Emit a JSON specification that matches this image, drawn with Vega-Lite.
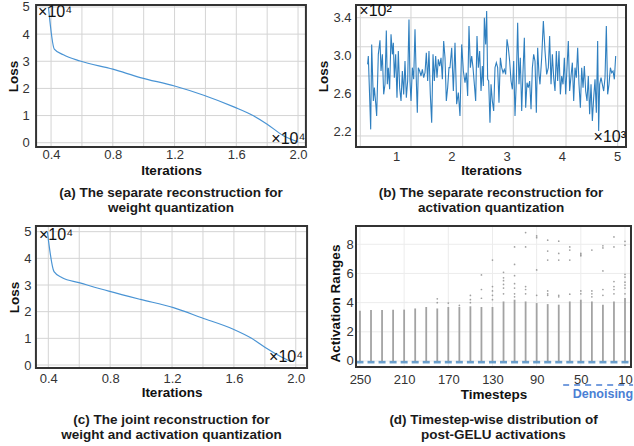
{
  "$schema": "https://vega.github.io/schema/vega-lite/v6.json",
  "background": "white",
  "padding": {"left": 6, "top": 0, "right": 4, "bottom": 0},
  "columns": 2,
  "bounds": "flush",
  "align": "none",
  "spacing": {"row": 77, "column": 47},
  "config": {
    "font": "Liberation Sans",
    "view": {"stroke": null},
    "axis": {
      "labelFont": "Liberation Sans", "labelFontSize": 13, "labelColor": "#333333",
      "titleFont": "Liberation Sans", "titleFontSize": 13.5, "titleFontWeight": "bold", "titleColor": "#111111",
      "ticks": false, "domain": false, "grid": false, "labelOverlap": false, "labelSeparation": -12
    },
    "title": {"font": "Liberation Sans", "fontSize": 13.5, "fontWeight": "bold", "lineHeight": 15, "orient": "bottom", "frame": "group", "anchor": "middle", "color": "#1a1a1a"}
  },
  "concat": [
    {
      "width": 272, "height": 144,
      "title": {"text": ["(a) The separate reconstruction for", "weight quantization"], "offset": 9},
      "resolve": {"axis": {"x": "independent", "y": "independent"}},
      "layer": [
        {
          "data": {"values": [
            {"g": 0.4, "lo": -0.195, "hi": 5.11}, {"g": 0.6, "lo": -0.195, "hi": 5.11}, {"g": 0.8, "lo": -0.195, "hi": 5.11},
            {"g": 1.0, "lo": -0.195, "hi": 5.11}, {"g": 1.2, "lo": -0.195, "hi": 5.11}, {"g": 1.4, "lo": -0.195, "hi": 5.11},
            {"g": 1.6, "lo": -0.195, "hi": 5.11}, {"g": 1.8, "lo": -0.195, "hi": 5.11}, {"g": 2.0, "lo": -0.195, "hi": 5.11}
          ]},
          "mark": {"type": "rule", "color": "#d4d4d4", "strokeWidth": 1},
          "encoding": {
            "x": {"field": "g", "type": "quantitative", "scale": {"domain": [0.296, 2.058], "nice": false, "zero": false},
              "axis": {"title": "Iterations", "values": [0.4, 0.6, 0.8, 1.0, 1.2, 1.4, 1.6, 1.8, 2.0], "labelOverlap": false,
                "labelExpr": "round(datum.value*10) % 4 == 0 ? format(datum.value, '.1f') : ''", "labelPadding": 0, "titleY": 15.2}},
            "y": {"field": "lo", "type": "quantitative", "scale": {"domain": [-0.195, 5.11], "nice": false, "zero": false},
              "axis": {"title": "Loss", "values": [0, 1, 2, 3, 4, 5], "format": "d", "labelOverlap": false, "labelPadding": 5.7, "titleX": -17.7, "titleBaseline": "alphabetic"}},
            "y2": {"field": "hi"}
          }
        },
        {
          "data": {"values": [
            {"g": 0, "lo": 0.296, "hi": 2.058}, {"g": 1, "lo": 0.296, "hi": 2.058}, {"g": 2, "lo": 0.296, "hi": 2.058},
            {"g": 3, "lo": 0.296, "hi": 2.058}, {"g": 4, "lo": 0.296, "hi": 2.058}, {"g": 5, "lo": 0.296, "hi": 2.058}
          ]},
          "mark": {"type": "rule", "color": "#d4d4d4", "strokeWidth": 1},
          "encoding": {"y": {"field": "g", "type": "quantitative", "axis": null}, "x": {"field": "lo", "type": "quantitative", "axis": null}, "x2": {"field": "hi"}}
        },
        {
          "data": {"values": [
            {"iter": 0.383, "loss": 5.0}, {"iter": 0.421, "loss": 3.45}, {"iter": 0.48, "loss": 3.24},
            {"iter": 0.588, "loss": 3.01}, {"iter": 0.8, "loss": 2.71}, {"iter": 0.978, "loss": 2.4},
            {"iter": 1.2, "loss": 2.09}, {"iter": 1.389, "loss": 1.75}, {"iter": 1.584, "loss": 1.32},
            {"iter": 1.714, "loss": 0.985}, {"iter": 1.8, "loss": 0.68}, {"iter": 1.908, "loss": 0.25},
            {"iter": 2.0, "loss": 0.03}
          ]},
          "mark": {"type": "line", "color": "#4a94d4", "strokeWidth": 1.2, "interpolate": "monotone"},
          "encoding": {"x": {"field": "iter", "type": "quantitative", "axis": null}, "y": {"field": "loss", "type": "quantitative", "axis": null}}
        },
        {
          "data": {"values": [{"x1": 0.303, "x2": 2.051, "y1": -0.158, "y2": 5.073}]},
          "mark": {"type": "rect", "fill": "transparent", "stroke": "#333333", "strokeWidth": 2},
          "encoding": {"x": {"field": "x1", "type": "quantitative", "axis": null}, "x2": {"field": "x2"}, "y": {"field": "y1", "type": "quantitative", "axis": null}, "y2": {"field": "y2"}}
        },
        {
          "data": {"values": [{"iter": 0.316, "loss": 4.63, "label": "×10⁴"}]},
          "mark": {"type": "text", "align": "left", "baseline": "alphabetic", "fontSize": 16, "color": "#111111"},
          "encoding": {"x": {"field": "iter", "type": "quantitative", "axis": null}, "y": {"field": "loss", "type": "quantitative", "axis": null}, "text": {"field": "label"}}
        },
        {
          "data": {"values": [{"iter": 2.047, "loss": -0.037, "label": "×10⁴"}]},
          "mark": {"type": "text", "align": "right", "baseline": "alphabetic", "fontSize": 16, "color": "#111111"},
          "encoding": {"x": {"field": "iter", "type": "quantitative", "axis": null}, "y": {"field": "loss", "type": "quantitative", "axis": null}, "text": {"field": "label"}}
        }
      ]
    },
    {
      "width": 272, "height": 144,
      "title": {"text": ["(b) The separate reconstruction for", "activation quantization"], "offset": 9},
      "resolve": {"axis": {"x": "independent", "y": "independent"}},
      "layer": [
        {
          "data": {"values": [
            {"g": 0.354, "lo": 2.023, "hi": 3.545}, {"g": 1.271, "lo": 2.023, "hi": 3.545}, {"g": 2.207, "lo": 2.023, "hi": 3.545},
            {"g": 3.123, "lo": 2.023, "hi": 3.545}, {"g": 4.077, "lo": 2.023, "hi": 3.545}, {"g": 5.013, "lo": 2.023, "hi": 3.545}
          ]},
          "mark": {"type": "rule", "color": "#d4d4d4", "strokeWidth": 1},
          "encoding": {
            "x": {"field": "g", "type": "quantitative", "scale": {"domain": [0.258, 5.181], "nice": false, "zero": false},
              "axis": {"title": "Iterations", "values": [1, 2, 3, 4, 5], "format": "d", "labelOverlap": false, "labelPadding": 2, "titleY": 15.5}},
            "y": {"field": "lo", "type": "quantitative", "scale": {"domain": [2.023, 3.545], "nice": false, "zero": false},
              "axis": {"title": "Loss", "values": [2.2, 2.6, 3.0, 3.4], "format": ".1f", "labelOverlap": false, "labelPadding": 4, "titleX": -27.3, "titleBaseline": "alphabetic"}},
            "y2": {"field": "hi"}
          }
        },
        {
          "data": {"values": [
            {"g": 3.4, "lo": 0.258, "hi": 5.181}, {"g": 3.093, "lo": 0.258, "hi": 5.181}, {"g": 2.784, "lo": 0.258, "hi": 5.181},
            {"g": 2.467, "lo": 0.258, "hi": 5.181}, {"g": 2.15, "lo": 0.258, "hi": 5.181}
          ]},
          "mark": {"type": "rule", "color": "#d4d4d4", "strokeWidth": 1},
          "encoding": {"y": {"field": "g", "type": "quantitative", "axis": null}, "x": {"field": "lo", "type": "quantitative", "axis": null}, "x2": {"field": "hi"}}
        },
        {
          "data": {"values": [
            {"iter": 0.487, "loss": 2.907}, {"iter": 0.499, "loss": 2.995}, {"iter": 0.542, "loss": 2.22}, {"iter": 0.56, "loss": 3.118},
            {"iter": 0.59, "loss": 2.52}, {"iter": 0.608, "loss": 2.661}, {"iter": 0.632, "loss": 2.502}, {"iter": 0.65, "loss": 2.361},
            {"iter": 0.68, "loss": 3.013}, {"iter": 0.71, "loss": 3.161}, {"iter": 0.729, "loss": 2.837}, {"iter": 0.753, "loss": 3.013},
            {"iter": 0.777, "loss": 2.59}, {"iter": 0.801, "loss": 2.696}, {"iter": 0.825, "loss": 3.266}, {"iter": 0.843, "loss": 2.696},
            {"iter": 0.861, "loss": 2.872}, {"iter": 0.885, "loss": 2.643}, {"iter": 0.91, "loss": 3.224}, {"iter": 0.934, "loss": 3.013},
            {"iter": 0.952, "loss": 3.136}, {"iter": 0.97, "loss": 2.766}, {"iter": 0.994, "loss": 3.013}, {"iter": 1.018, "loss": 2.555},
            {"iter": 1.042, "loss": 3.048}, {"iter": 1.066, "loss": 2.661}, {"iter": 1.091, "loss": 2.52}, {"iter": 1.115, "loss": 2.837},
            {"iter": 1.139, "loss": 2.59}, {"iter": 1.163, "loss": 2.942}, {"iter": 1.187, "loss": 2.555}, {"iter": 1.211, "loss": 2.731},
            {"iter": 1.235, "loss": 3.382}, {"iter": 1.253, "loss": 2.731}, {"iter": 1.272, "loss": 2.52}, {"iter": 1.296, "loss": 2.872},
            {"iter": 1.32, "loss": 2.749}, {"iter": 1.344, "loss": 3.277}, {"iter": 1.368, "loss": 2.731}, {"iter": 1.386, "loss": 2.396},
            {"iter": 1.404, "loss": 2.872}, {"iter": 1.428, "loss": 2.837}, {"iter": 1.453, "loss": 2.784}, {"iter": 1.477, "loss": 2.854},
            {"iter": 1.501, "loss": 2.766}, {"iter": 1.525, "loss": 2.819}, {"iter": 1.549, "loss": 3.03}, {"iter": 1.573, "loss": 2.731},
            {"iter": 1.597, "loss": 3.048}, {"iter": 1.621, "loss": 2.59}, {"iter": 1.646, "loss": 2.291}, {"iter": 1.67, "loss": 3.013},
            {"iter": 1.694, "loss": 2.731}, {"iter": 1.718, "loss": 2.995}, {"iter": 1.742, "loss": 2.766}, {"iter": 1.766, "loss": 2.96},
            {"iter": 1.79, "loss": 2.889}, {"iter": 1.815, "loss": 2.977}, {"iter": 1.839, "loss": 2.749}, {"iter": 1.863, "loss": 3.154},
            {"iter": 1.887, "loss": 2.977}, {"iter": 1.911, "loss": 2.52}, {"iter": 1.935, "loss": 2.661}, {"iter": 1.959, "loss": 2.872},
            {"iter": 1.977, "loss": 2.872},
            {"iter": 2.008, "loss": 3.083}, {"iter": 2.038, "loss": 2.625}, {"iter": 2.068, "loss": 3.136}, {"iter": 2.098, "loss": 2.485},
            {"iter": 2.128, "loss": 2.608}, {"iter": 2.158, "loss": 2.361}, {"iter": 2.189, "loss": 3.118}, {"iter": 2.219, "loss": 2.837},
            {"iter": 2.249, "loss": 2.713}, {"iter": 2.273, "loss": 2.819}, {"iter": 2.297, "loss": 2.573}, {"iter": 2.321, "loss": 3.312},
            {"iter": 2.346, "loss": 2.872}, {"iter": 2.37, "loss": 2.995}, {"iter": 2.394, "loss": 2.872}, {"iter": 2.418, "loss": 2.696},
            {"iter": 2.442, "loss": 2.52}, {"iter": 2.466, "loss": 3.206}, {"iter": 2.49, "loss": 2.872}, {"iter": 2.514, "loss": 3.048},
            {"iter": 2.539, "loss": 2.625}, {"iter": 2.563, "loss": 2.889}, {"iter": 2.581, "loss": 2.678}, {"iter": 2.599, "loss": 3.4},
            {"iter": 2.623, "loss": 3.118}, {"iter": 2.641, "loss": 3.47}, {"iter": 2.659, "loss": 2.749}, {"iter": 2.677, "loss": 2.731},
            {"iter": 2.701, "loss": 2.291}, {"iter": 2.72, "loss": 2.696}, {"iter": 2.744, "loss": 2.52}, {"iter": 2.768, "loss": 2.414},
            {"iter": 2.792, "loss": 2.872}, {"iter": 2.816, "loss": 2.925}, {"iter": 2.84, "loss": 2.872}, {"iter": 2.864, "loss": 2.502},
            {"iter": 2.889, "loss": 2.977}, {"iter": 2.913, "loss": 2.872}, {"iter": 2.937, "loss": 2.819}, {"iter": 2.961, "loss": 2.854},
            {"iter": 2.985, "loss": 2.801}, {"iter": 3.009, "loss": 3.171}, {"iter": 3.033, "loss": 3.083}, {"iter": 3.057, "loss": 2.942},
            {"iter": 3.082, "loss": 2.731}, {"iter": 3.106, "loss": 2.643}, {"iter": 3.13, "loss": 2.942}, {"iter": 3.154, "loss": 2.361},
            {"iter": 3.178, "loss": 2.731}, {"iter": 3.202, "loss": 3.347}, {"iter": 3.226, "loss": 2.696}, {"iter": 3.25, "loss": 2.977},
            {"iter": 3.275, "loss": 2.414}, {"iter": 3.299, "loss": 2.837}, {"iter": 3.323, "loss": 3.189}, {"iter": 3.347, "loss": 2.449},
            {"iter": 3.371, "loss": 2.713}, {"iter": 3.395, "loss": 2.661}, {"iter": 3.419, "loss": 2.731}, {"iter": 3.444, "loss": 2.432},
            {"iter": 3.468, "loss": 2.872}, {"iter": 3.492, "loss": 3.013}, {"iter": 3.516, "loss": 2.942}, {"iter": 3.54, "loss": 2.396},
            {"iter": 3.564, "loss": 3.083}, {"iter": 3.588, "loss": 2.801}, {"iter": 3.606, "loss": 2.696},
            {"iter": 3.637, "loss": 2.977}, {"iter": 3.667, "loss": 3.365}, {"iter": 3.697, "loss": 3.048}, {"iter": 3.727, "loss": 2.801},
            {"iter": 3.757, "loss": 2.872}, {"iter": 3.781, "loss": 3.206}, {"iter": 3.806, "loss": 2.696}, {"iter": 3.83, "loss": 3.013},
            {"iter": 3.854, "loss": 2.766}, {"iter": 3.878, "loss": 2.625}, {"iter": 3.902, "loss": 3.048}, {"iter": 3.926, "loss": 2.731},
            {"iter": 3.95, "loss": 3.048}, {"iter": 3.975, "loss": 2.59}, {"iter": 3.999, "loss": 2.784}, {"iter": 4.023, "loss": 2.696},
            {"iter": 4.047, "loss": 2.977}, {"iter": 4.071, "loss": 2.59}, {"iter": 4.095, "loss": 2.872}, {"iter": 4.119, "loss": 3.154},
            {"iter": 4.143, "loss": 2.625}, {"iter": 4.168, "loss": 2.784}, {"iter": 4.192, "loss": 2.925}, {"iter": 4.216, "loss": 2.52},
            {"iter": 4.24, "loss": 2.872}, {"iter": 4.264, "loss": 2.766}, {"iter": 4.288, "loss": 3.083}, {"iter": 4.312, "loss": 2.696},
            {"iter": 4.337, "loss": 2.449}, {"iter": 4.361, "loss": 2.872}, {"iter": 4.385, "loss": 2.661}, {"iter": 4.409, "loss": 2.889},
            {"iter": 4.433, "loss": 2.625}, {"iter": 4.457, "loss": 2.52}, {"iter": 4.481, "loss": 2.784}, {"iter": 4.505, "loss": 2.379},
            {"iter": 4.53, "loss": 2.696}, {"iter": 4.554, "loss": 2.308}, {"iter": 4.578, "loss": 2.555}, {"iter": 4.602, "loss": 2.749},
            {"iter": 4.626, "loss": 2.396}, {"iter": 4.65, "loss": 3.154}, {"iter": 4.668, "loss": 2.203}, {"iter": 4.686, "loss": 2.696},
            {"iter": 4.711, "loss": 2.766}, {"iter": 4.735, "loss": 2.696}, {"iter": 4.759, "loss": 2.625}, {"iter": 4.783, "loss": 2.766},
            {"iter": 4.807, "loss": 3.312}, {"iter": 4.831, "loss": 2.59}, {"iter": 4.855, "loss": 2.696}, {"iter": 4.88, "loss": 2.872},
            {"iter": 4.904, "loss": 2.819}, {"iter": 4.928, "loss": 2.837}, {"iter": 4.952, "loss": 2.749}, {"iter": 4.976, "loss": 2.995}
          ]},
          "mark": {"type": "line", "color": "#2f7fbf", "strokeWidth": 1.1},
          "encoding": {"x": {"field": "iter", "type": "quantitative", "axis": null}, "y": {"field": "loss", "type": "quantitative", "axis": null}}
        },
        {
          "data": {"values": [{"x1": 0.276, "x2": 5.163, "y1": 2.034, "y2": 3.534}]},
          "mark": {"type": "rect", "fill": "transparent", "stroke": "#333333", "strokeWidth": 2},
          "encoding": {"x": {"field": "x1", "type": "quantitative", "axis": null}, "x2": {"field": "x2"}, "y": {"field": "y1", "type": "quantitative", "axis": null}, "y2": {"field": "y2"}}
        },
        {
          "data": {"values": [{"iter": 0.336, "loss": 3.418, "label": "×10²"}]},
          "mark": {"type": "text", "align": "left", "baseline": "alphabetic", "fontSize": 16, "color": "#111111"},
          "encoding": {"x": {"field": "iter", "type": "quantitative", "axis": null}, "y": {"field": "loss", "type": "quantitative", "axis": null}, "text": {"field": "label"}}
        },
        {
          "data": {"values": [{"iter": 5.163, "loss": 2.089, "label": "×10³"}]},
          "mark": {"type": "text", "align": "right", "baseline": "alphabetic", "fontSize": 16, "color": "#111111"},
          "encoding": {"x": {"field": "iter", "type": "quantitative", "axis": null}, "y": {"field": "loss", "type": "quantitative", "axis": null}, "text": {"field": "label"}}
        }
      ]
    },
    {
      "width": 273, "height": 144,
      "title": {"text": ["(c) The joint reconstruction for", "weight and activation quantization"], "offset": 13.8},
      "resolve": {"axis": {"x": "independent", "y": "independent"}},
      "layer": [
        {
          "data": {"values": [
            {"g": 0.4, "lo": -0.15, "hi": 5.25}, {"g": 0.6, "lo": -0.15, "hi": 5.25}, {"g": 0.8, "lo": -0.15, "hi": 5.25},
            {"g": 1.0, "lo": -0.15, "hi": 5.25}, {"g": 1.2, "lo": -0.15, "hi": 5.25}, {"g": 1.4, "lo": -0.15, "hi": 5.25},
            {"g": 1.6, "lo": -0.15, "hi": 5.25}, {"g": 1.8, "lo": -0.15, "hi": 5.25}, {"g": 2.0, "lo": -0.15, "hi": 5.25}
          ]},
          "mark": {"type": "rule", "color": "#d4d4d4", "strokeWidth": 1},
          "encoding": {
            "x": {"field": "g", "type": "quantitative", "scale": {"domain": [0.314, 2.079], "nice": false, "zero": false},
              "axis": {"title": "Iterations", "values": [0.4, 0.6, 0.8, 1.0, 1.2, 1.4, 1.6, 1.8, 2.0], "labelOverlap": false,
                "labelExpr": "round(datum.value*10) % 4 == 0 ? format(datum.value, '.1f') : ''", "labelPadding": 3, "titleY": 16.9}},
            "y": {"field": "lo", "type": "quantitative", "scale": {"domain": [-0.15, 5.25], "nice": false, "zero": false},
              "axis": {"title": "Loss", "values": [0, 1, 2, 3, 4, 5], "format": "d", "labelOverlap": false, "labelPadding": 4, "titleX": -16.7, "titleBaseline": "alphabetic"}},
            "y2": {"field": "hi"}
          }
        },
        {
          "data": {"values": [
            {"g": 0, "lo": 0.314, "hi": 2.079}, {"g": 1, "lo": 0.314, "hi": 2.079}, {"g": 2, "lo": 0.314, "hi": 2.079},
            {"g": 3, "lo": 0.314, "hi": 2.079}, {"g": 4, "lo": 0.314, "hi": 2.079}, {"g": 5, "lo": 0.314, "hi": 2.079}
          ]},
          "mark": {"type": "rule", "color": "#d4d4d4", "strokeWidth": 1},
          "encoding": {"y": {"field": "g", "type": "quantitative", "axis": null}, "x": {"field": "lo", "type": "quantitative", "axis": null}, "x2": {"field": "hi"}}
        },
        {
          "data": {"values": [
            {"iter": 0.394, "loss": 5.0}, {"iter": 0.437, "loss": 3.5}, {"iter": 0.49, "loss": 3.27},
            {"iter": 0.598, "loss": 3.09}, {"iter": 0.791, "loss": 2.77}, {"iter": 0.995, "loss": 2.46},
            {"iter": 1.209, "loss": 2.15}, {"iter": 1.392, "loss": 1.77}, {"iter": 1.596, "loss": 1.34},
            {"iter": 1.714, "loss": 1.0}, {"iter": 1.8, "loss": 0.67}, {"iter": 1.896, "loss": 0.34},
            {"iter": 1.971, "loss": 0.12}
          ]},
          "mark": {"type": "line", "color": "#4a94d4", "strokeWidth": 1.2, "interpolate": "monotone"},
          "encoding": {"x": {"field": "iter", "type": "quantitative", "axis": null}, "y": {"field": "loss", "type": "quantitative", "axis": null}}
        },
        {
          "data": {"values": [{"x1": 0.32, "x2": 2.073, "y1": -0.1125, "y2": 5.2125}]},
          "mark": {"type": "rect", "fill": "transparent", "stroke": "#333333", "strokeWidth": 2},
          "encoding": {"x": {"field": "x1", "type": "quantitative", "axis": null}, "x2": {"field": "x2"}, "y": {"field": "y1", "type": "quantitative", "axis": null}, "y2": {"field": "y2"}}
        },
        {
          "data": {"values": [{"iter": 0.34, "loss": 4.68, "label": "×10⁴"}]},
          "mark": {"type": "text", "align": "left", "baseline": "alphabetic", "fontSize": 16, "color": "#111111"},
          "encoding": {"x": {"field": "iter", "type": "quantitative", "axis": null}, "y": {"field": "loss", "type": "quantitative", "axis": null}, "text": {"field": "label"}}
        },
        {
          "data": {"values": [{"iter": 2.047, "loss": 0.124, "label": "×10⁴"}]},
          "mark": {"type": "text", "align": "right", "baseline": "alphabetic", "fontSize": 16, "color": "#111111"},
          "encoding": {"x": {"field": "iter", "type": "quantitative", "axis": null}, "y": {"field": "loss", "type": "quantitative", "axis": null}, "text": {"field": "label"}}
        }
      ]
    },
    {
      "width": 277, "height": 143,
      "title": {"text": ["(d) Timestep-wise distribution of", "post-GELU activations"], "offset": 12.5},
      "resolve": {"axis": {"x": "independent", "y": "independent"}},
      "layer": [
        {
          "data": {"values": [
            {"g": 250, "lo": -0.48, "hi": 9.32}, {"g": 210, "lo": -0.48, "hi": 9.32}, {"g": 170, "lo": -0.48, "hi": 9.32},
            {"g": 130, "lo": -0.48, "hi": 9.32}, {"g": 90, "lo": -0.48, "hi": 9.32}, {"g": 50, "lo": -0.48, "hi": 9.32},
            {"g": 10, "lo": -0.48, "hi": 9.32}
          ]},
          "mark": {"type": "rule", "color": "#ececec", "strokeWidth": 1},
          "encoding": {
            "x": {"field": "g", "type": "quantitative", "scale": {"domain": [3.66, 254.5], "reverse": true, "nice": false, "zero": false},
              "axis": {"title": "Timesteps", "values": [250, 210, 170, 130, 90, 50, 10], "labelOverlap": false, "labelPadding": 5, "titleY": 19.2}},
            "y": {"field": "lo", "type": "quantitative", "scale": {"domain": [-0.48, 9.32], "nice": false, "zero": false},
              "axis": {"title": "Activation Ranges", "values": [0, 2, 4, 6, 8], "format": "d", "labelOverlap": false, "labelPadding": 1.7, "titleX": -15.7, "titleY": 78, "titleBaseline": "alphabetic"}},
            "y2": {"field": "hi"}
          }
        },
        {
          "data": {"values": [
            {"g": 0, "lo": 3.66, "hi": 254.5}, {"g": 2, "lo": 3.66, "hi": 254.5}, {"g": 4, "lo": 3.66, "hi": 254.5},
            {"g": 6, "lo": 3.66, "hi": 254.5}, {"g": 8, "lo": 3.66, "hi": 254.5}
          ]},
          "mark": {"type": "rule", "color": "#ececec", "strokeWidth": 1},
          "encoding": {"y": {"field": "g", "type": "quantitative", "axis": null}, "x": {"field": "lo", "type": "quantitative", "axis": null}, "x2": {"field": "hi"}}
        },
        {
          "data": {"values": [
            {"t": 250, "lo": 0, "top": 3.45}, {"t": 240, "lo": 0, "top": 3.5}, {"t": 230, "lo": 0, "top": 3.5},
            {"t": 220, "lo": 0, "top": 3.52}, {"t": 210, "lo": 0, "top": 3.52}, {"t": 200, "lo": 0, "top": 3.6},
            {"t": 190, "lo": 0, "top": 3.7}, {"t": 180, "lo": 0, "top": 3.6}, {"t": 170, "lo": 0, "top": 3.7},
            {"t": 160, "lo": 0, "top": 3.7}, {"t": 150, "lo": 0, "top": 3.75}, {"t": 140, "lo": 0, "top": 3.7},
            {"t": 130, "lo": 0, "top": 3.7}, {"t": 120, "lo": 0, "top": 4.08}, {"t": 110, "lo": 0, "top": 4.2},
            {"t": 100, "lo": 0, "top": 4.08}, {"t": 90, "lo": 0, "top": 3.97}, {"t": 80, "lo": 0, "top": 3.9},
            {"t": 70, "lo": 0, "top": 3.86}, {"t": 60, "lo": 0, "top": 4.08}, {"t": 50, "lo": 0, "top": 4.2},
            {"t": 40, "lo": 0, "top": 4.08}, {"t": 30, "lo": 0, "top": 3.86}, {"t": 20, "lo": 0, "top": 4.08},
            {"t": 10, "lo": 0, "top": 4.31}
          ]},
          "mark": {"type": "rule", "color": "#a3a3a3", "strokeWidth": 1.8},
          "encoding": {"x": {"field": "t", "type": "quantitative", "axis": null}, "y": {"field": "lo", "type": "quantitative", "axis": null}, "y2": {"field": "top"}}
        },
        {
          "data": {"values": [
            {"t": 250, "min": -0.08}, {"t": 240, "min": -0.08}, {"t": 230, "min": -0.08}, {"t": 220, "min": -0.08}, {"t": 210, "min": -0.08},
            {"t": 200, "min": -0.08}, {"t": 190, "min": -0.08}, {"t": 180, "min": -0.08}, {"t": 170, "min": -0.08}, {"t": 160, "min": -0.08},
            {"t": 150, "min": -0.08}, {"t": 140, "min": -0.08}, {"t": 130, "min": -0.08}, {"t": 120, "min": -0.08}, {"t": 110, "min": -0.08},
            {"t": 100, "min": -0.08}, {"t": 90, "min": -0.08}, {"t": 80, "min": -0.08}, {"t": 70, "min": -0.08}, {"t": 60, "min": -0.08},
            {"t": 50, "min": -0.08}, {"t": 40, "min": -0.08}, {"t": 30, "min": -0.08}, {"t": 20, "min": -0.08}, {"t": 10, "min": -0.08}
          ]},
          "mark": {"type": "tick", "orient": "horizontal", "color": "#2e78b8", "size": 7, "thickness": 2.6},
          "encoding": {"x": {"field": "t", "type": "quantitative", "axis": null}, "y": {"field": "min", "type": "quantitative", "axis": null}}
        },
        {
          "data": {"values": [
            {"t": 180, "v": 4.26}, {"t": 180, "v": 4.0}, {"t": 170, "v": 3.97}, {"t": 160, "v": 3.81},
            {"t": 150, "v": 4.0}, {"t": 150, "v": 4.2}, {"t": 150, "v": 4.49},
            {"t": 140, "v": 4.3}, {"t": 140, "v": 4.9}, {"t": 140, "v": 5.9},
            {"t": 130, "v": 6.92}, {"t": 130, "v": 5.1}, {"t": 130, "v": 4.8}, {"t": 130, "v": 4.5}, {"t": 130, "v": 4.2},
            {"t": 120, "v": 6.08}, {"t": 120, "v": 5.7}, {"t": 120, "v": 5.5}, {"t": 120, "v": 5.25}, {"t": 120, "v": 5.0}, {"t": 120, "v": 4.6},
            {"t": 110, "v": 7.82}, {"t": 110, "v": 6.62}, {"t": 110, "v": 5.85}, {"t": 110, "v": 5.3}, {"t": 110, "v": 5.0}, {"t": 110, "v": 4.6}, {"t": 110, "v": 4.4},
            {"t": 100, "v": 8.8}, {"t": 100, "v": 7.82}, {"t": 100, "v": 5.1}, {"t": 100, "v": 4.9}, {"t": 100, "v": 4.6},
            {"t": 90, "v": 8.57}, {"t": 90, "v": 8.45}, {"t": 90, "v": 6.24}, {"t": 90, "v": 4.5},
            {"t": 80, "v": 8.28}, {"t": 80, "v": 7.53}, {"t": 80, "v": 6.92}, {"t": 80, "v": 4.8}, {"t": 80, "v": 4.6}, {"t": 80, "v": 4.5},
            {"t": 70, "v": 8.21}, {"t": 70, "v": 7.37}, {"t": 70, "v": 6.92}, {"t": 70, "v": 4.5}, {"t": 70, "v": 4.4},
            {"t": 60, "v": 7.82}, {"t": 60, "v": 7.6}, {"t": 60, "v": 6.92}, {"t": 60, "v": 4.58},
            {"t": 50, "v": 7.37}, {"t": 50, "v": 7.28}, {"t": 50, "v": 7.21}, {"t": 50, "v": 4.8}, {"t": 50, "v": 4.6},
            {"t": 40, "v": 7.6}, {"t": 40, "v": 4.8}, {"t": 40, "v": 4.6}, {"t": 40, "v": 4.4},
            {"t": 30, "v": 7.89}, {"t": 30, "v": 7.75}, {"t": 30, "v": 6.17}, {"t": 30, "v": 4.9}, {"t": 30, "v": 4.5},
            {"t": 20, "v": 8.5}, {"t": 20, "v": 7.82}, {"t": 20, "v": 5.44}, {"t": 20, "v": 5.1}, {"t": 20, "v": 4.9}, {"t": 20, "v": 4.6},
            {"t": 10, "v": 8.2}, {"t": 10, "v": 7.94}, {"t": 10, "v": 5.94}, {"t": 10, "v": 5.75}, {"t": 10, "v": 5.4}, {"t": 10, "v": 5.2}, {"t": 10, "v": 5.0}, {"t": 10, "v": 4.6}
          ]},
          "mark": {"type": "point", "filled": true, "size": 3, "color": "#8a8a8a", "opacity": 0.8},
          "encoding": {"x": {"field": "t", "type": "quantitative", "axis": null}, "y": {"field": "v", "type": "quantitative", "axis": null}}
        },
        {
          "data": {"values": [{"x1": 4.57, "x2": 253.6, "y1": -0.41, "y2": 9.25}]},
          "mark": {"type": "rect", "fill": "transparent", "stroke": "#333333", "strokeWidth": 2},
          "encoding": {"x": {"field": "x1", "type": "quantitative", "axis": null}, "x2": {"field": "x2"}, "y": {"field": "y1", "type": "quantitative", "axis": null}, "y2": {"field": "y2"}}
        },
        {
          "data": {"values": [{"t": 66, "t2": 2.7, "v": -1.64}]},
          "mark": {"type": "rule", "color": "#4a7fd4", "strokeWidth": 1.5, "strokeDash": [6, 5], "clip": false},
          "encoding": {"x": {"field": "t", "type": "quantitative", "axis": null}, "x2": {"field": "t2"}, "y": {"field": "v", "type": "quantitative", "axis": null}}
        },
        {
          "data": {"values": [{"t": 30, "v": -2.28, "label": "Denoising"}]},
          "mark": {"type": "text", "color": "#4a7fd4", "fontSize": 12.5, "fontWeight": "bold", "baseline": "middle", "align": "center"},
          "encoding": {"x": {"field": "t", "type": "quantitative", "axis": null}, "y": {"field": "v", "type": "quantitative", "axis": null}, "text": {"field": "label"}}
        }
      ]
    }
  ]
}
